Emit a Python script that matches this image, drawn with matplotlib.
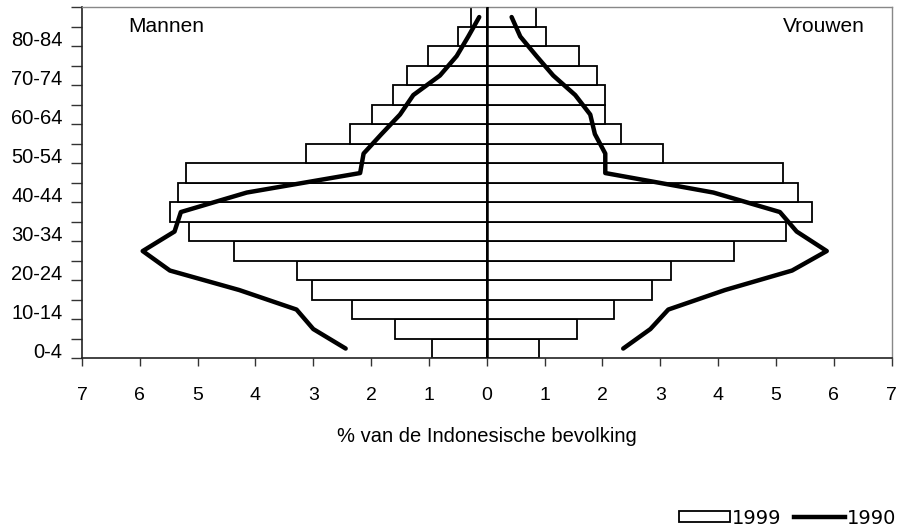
import matplotlib
matplotlib.use("Agg")
import matplotlib.pyplot as plt
from matplotlib.patches import Patch
from matplotlib.lines import Line2D
import numpy as np

age_groups = [
    "0-4", "5-9", "10-14", "15-19", "20-24", "25-29", "30-34", "35-39", "40-44",
    "45-49", "50-54", "55-59", "60-64", "65-69", "70-74", "75-79", "80-84", "85+",
]

# 1999, % of population
men_1999 = [0.94, 1.59, 2.33, 3.02, 3.28, 4.37, 5.15, 5.48, 5.34,
            5.21, 3.13, 2.37, 1.98, 1.63, 1.38, 1.02, 0.50, 0.27]
women_1999 = [0.90, 1.56, 2.20, 2.85, 3.18, 4.28, 5.17, 5.62, 5.39,
              5.13, 3.04, 2.32, 2.04, 2.05, 1.91, 1.59, 1.02, 0.85]

# 1990, % of population
men_1990 = [2.44, 3.00, 3.29, 4.28, 5.48, 5.95, 5.40, 5.29, 4.15,
            2.19, 2.13, 1.82, 1.50, 1.27, 0.81, 0.52, 0.32, 0.13]
women_1990 = [2.36, 2.83, 3.14, 4.12, 5.28, 5.88, 5.36, 5.07, 3.92,
              2.05, 2.05, 1.87, 1.79, 1.53, 1.15, 0.86, 0.58, 0.43]

x_ticks = [-7, -6, -5, -4, -3, -2, -1, 0, 1, 2, 3, 4, 5, 6, 7]

plt.rcParams["font.family"] = ["Liberation Sans", "DejaVu Sans"]

fig = plt.figure(figsize=(9.07, 5.32), dpi=100)
ax = fig.add_axes([82 / 907, 1 - 358.3 / 532, 809.5 / 907, 351 / 532])

y = np.arange(len(age_groups))
ax.barh(y, -np.array(men_1999), height=1.0, color="white",
        edgecolor="black", linewidth=1.3, zorder=2)
ax.barh(y, women_1999, height=1.0, color="white",
        edgecolor="black", linewidth=1.3, zorder=2)
ax.plot(-np.array(men_1990), y, color="black", lw=3.2, zorder=3,
        solid_capstyle="round", solid_joinstyle="round")
ax.plot(women_1990, y, color="black", lw=3.2, zorder=3,
        solid_capstyle="round", solid_joinstyle="round")
ax.axvline(0, color="black", lw=1.8, zorder=4)

ax.set_xlim(-7, 7)
ax.set_ylim(-0.5, len(age_groups) - 0.5)

ax.set_xticks(x_ticks)
ax.set_xticklabels([str(abs(v)) for v in x_ticks], fontsize=14)
ax.tick_params(axis="x", direction="out", length=6, width=1, pad=15,
               color="#333333")

ax.set_yticks(y[::2] - 0.1)
ax.set_yticklabels(age_groups[::2], fontsize=14.5)
ax.set_yticks(np.arange(len(age_groups) + 1) - 0.5, minor=True)
ax.tick_params(axis="y", which="major", length=0, pad=14)
ax.tick_params(axis="y", which="minor", direction="out", length=8,
               width=1, color="#333333")

for side in ["top", "right"]:
    ax.spines[side].set_color("#888888")
    ax.spines[side].set_linewidth(1)
for side in ["left", "bottom"]:
    ax.spines[side].set_color("#222222")
    ax.spines[side].set_linewidth(1.2)

ax.set_xlabel("% van de Indonesische bevolking", fontsize=14.5, labelpad=16)

ax.text(-6.2, 16.5, "Mannen", fontsize=15, va="center", ha="left")
ax.text(6.54, 16.5, "Vrouwen", fontsize=15, va="center", ha="right")

handles = [
    Patch(facecolor="white", edgecolor="black", linewidth=1.3),
    Line2D([0], [0], color="black", lw=3.2),
]
fig.legend(handles, ["1999", "1990"], loc="center right",
           bbox_to_anchor=(1.007, 1 - 518 / 532), ncol=2, frameon=False,
           prop={"family": "DejaVu Sans", "size": 14}, handlelength=2.6,
           handleheight=0.45, handletextpad=0.1, columnspacing=0.65)

fig.savefig("out.png", dpi=100)
